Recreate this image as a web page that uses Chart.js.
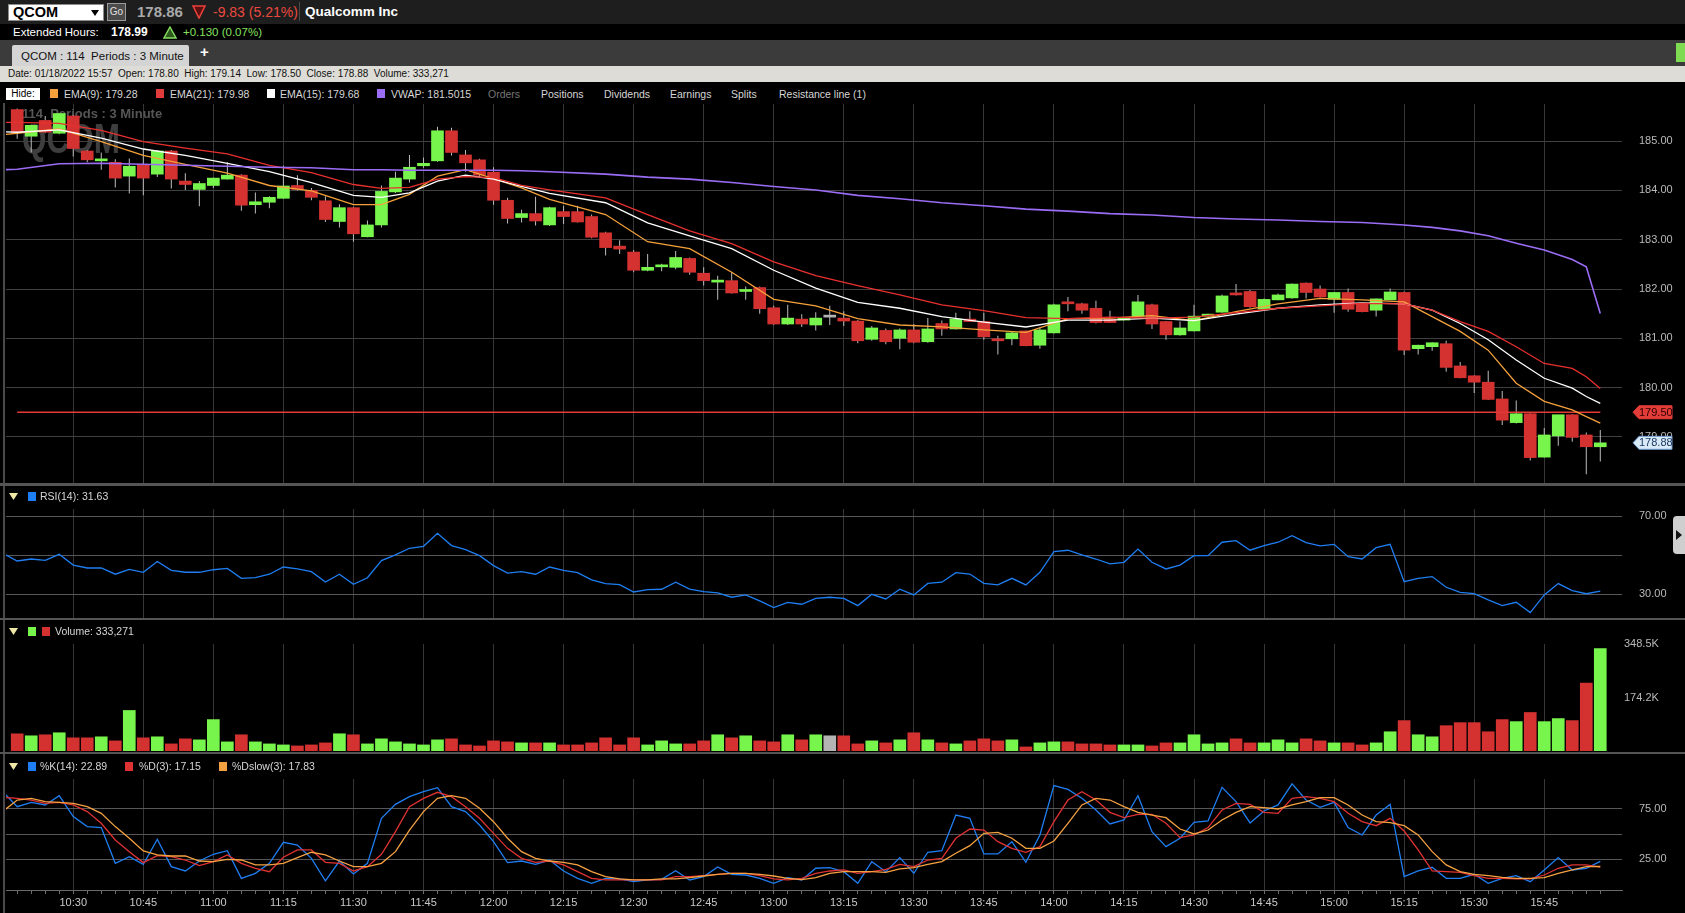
<!DOCTYPE html>
<html lang="en">
<head>
<meta charset="utf-8">
<title>QCOM : 114 Periods : 3 Minute</title>
<script src="https://cdn.jsdelivr.net/npm/chart.js@4.4.1/dist/chart.umd.min.js"></script>
<style>
  html, body { margin: 0; padding: 0; background: #000; }
  body { width: 1685px; height: 913px; overflow: hidden; position: relative;
         font-family: "Liberation Sans", Arial, Helvetica, sans-serif; color: #d4d4d4; }
  .a { position: absolute; white-space: nowrap; }
  .sq { position: absolute; width: 8px; height: 9px; }
  .lg { position: absolute; font-size: 10.5px; line-height: 12px; color: #d6d6d6; white-space: nowrap; }
  canvas { position: absolute; left: 0; }
  .sep { position: absolute; left: 0; width: 1685px; background: #555; }
</style>
</head>
<body>
<!-- quote bar -->
<div class="a" style="left:0;top:0;width:1685px;height:24px;background:#1e1e1e"></div>
<div class="a" style="left:8px;top:4px;width:94px;height:15px;background:#fff;border:1px solid #8c8c8c"></div>
<div class="a" style="left:13px;top:4px;font-size:14.5px;font-weight:bold;line-height:17px;color:#000">QCOM</div>
<svg class="a" style="left:91px;top:10px" width="8" height="6"><polygon points="0,0 8,0 4,6" fill="#000"/></svg>
<div class="a" style="left:107px;top:3px;width:17px;height:16px;background:#4b4b4b;border:1px solid #9a9a9a;color:#e0e0e0;font-size:10px;line-height:16px;text-align:center">Go</div>
<div class="a" style="left:137px;top:2px;font-size:15px;font-weight:bold;line-height:20px;color:#a9a9a9">178.86</div>
<svg class="a" style="left:192px;top:5px" width="14" height="14"><polygon points="1,1 13,1 7,13" fill="#5c0f0f" stroke="#e8413a" stroke-width="1.6"/></svg>
<div class="a" style="left:213px;top:2px;font-size:14px;line-height:20px;color:#ea4a3f">-9.83 (5.21%)</div>
<div class="a" style="left:299px;top:2px;width:1px;height:19px;background:#4a4a4a"></div>
<div class="a" style="left:305px;top:2px;font-size:13.5px;font-weight:bold;line-height:20px;color:#fff">Qualcomm Inc</div>

<div class="a" style="left:13px;top:25px;font-size:11.5px;line-height:15px;color:#fff">Extended Hours:</div>
<div class="a" style="left:111px;top:25px;font-size:12px;font-weight:bold;line-height:15px;color:#fff">178.99</div>
<svg class="a" style="left:163px;top:26px" width="14" height="13"><polygon points="7,1 13,12 1,12" fill="#2f5a1e" stroke="#86e060" stroke-width="1.4"/></svg>
<div class="a" style="left:183px;top:25px;font-size:11.5px;line-height:15px;color:#86e060">+0.130 (0.07%)</div>

<!-- tab bar -->
<div class="a" style="left:0;top:40px;width:1685px;height:26px;background:#3b3b3b"></div>
<div class="a" style="left:12px;top:45px;width:177px;height:21px;background:#d4d4d4;border-radius:2px 2px 0 0"></div>
<div class="a" style="left:21px;top:48px;font-size:11.5px;line-height:16px;color:#111">QCOM : 114&nbsp; Periods : 3 Minute</div>
<div class="a" style="left:200px;top:44px;font-size:15px;font-weight:bold;line-height:16px;color:#fff">+</div>
<div class="a" style="left:1676px;top:43px;width:9px;height:19px;background:#7fdc52"></div>

<!-- bar info line -->
<div class="a" style="left:0;top:66px;width:1685px;height:16px;background:#dddcd6"></div>
<div class="a" id="infoLine" style="left:8px;top:67px;font-size:10px;line-height:14px;color:#111"></div>

<!-- overlay legend row -->
<div class="a" style="left:6px;top:88px;width:34px;height:12px;background:#fff;color:#000;font-size:10px;line-height:12px;text-align:center">Hide:</div>
<div class="sq" style="left:50px;top:89px;background:#f5a13b"></div>
<div class="lg" id="lgEma9" style="left:64px;top:88px"></div>
<div class="sq" style="left:156px;top:89px;background:#e23b3b"></div>
<div class="lg" id="lgEma21" style="left:170px;top:88px"></div>
<div class="sq" style="left:267px;top:89px;background:#ffffff"></div>
<div class="lg" id="lgEma15" style="left:280px;top:88px"></div>
<div class="sq" style="left:377px;top:89px;background:#9b6cf5"></div>
<div class="lg" id="lgVwap" style="left:391px;top:88px"></div>
<div class="lg" style="left:488px;top:88px;color:#777">Orders</div>
<div class="lg" style="left:541px;top:88px">Positions</div>
<div class="lg" style="left:604px;top:88px">Dividends</div>
<div class="lg" style="left:670px;top:88px">Earnings</div>
<div class="lg" style="left:731px;top:88px">Splits</div>
<div class="lg" style="left:779px;top:88px">Resistance line (1)</div>

<div class="a" style="left:3px;top:103px;width:2px;height:810px;background:#4a4a4a"></div>

<canvas id="priceChart" width="1685" height="399" style="top:94px"></canvas>
<div class="sep" style="top:483px;height:3px"></div>

<svg class="a" style="left:9px;top:493px" width="9" height="7"><polygon points="0,0 9,0 4.5,7" fill="#efe7a6"/></svg>
<div class="sq" style="left:28px;top:492px;background:#1f7ef2"></div>
<div class="lg" id="lgRsi" style="left:40px;top:490px"></div>
<canvas id="rsiChart" width="1685" height="129" style="top:499px"></canvas>
<div class="a" style="left:1673px;top:516px;width:12px;height:38px;background:#cfcfcf;border-radius:4px 0 0 4px"></div>
<svg class="a" style="left:1676px;top:530px" width="6" height="10"><polygon points="0,0 6,5 0,10" fill="#111"/></svg>
<div class="sep" style="top:618px;height:2px"></div>

<svg class="a" style="left:9px;top:628px" width="9" height="7"><polygon points="0,0 9,0 4.5,7" fill="#efe7a6"/></svg>
<div class="sq" style="left:28px;top:627px;background:#78f54c"></div>
<div class="sq" style="left:42px;top:627px;background:#d43131"></div>
<div class="lg" id="lgVol" style="left:55px;top:625px"></div>
<canvas id="volChart" width="1685" height="127" style="top:634px"></canvas>
<div class="sep" style="top:752px;height:2px"></div>

<svg class="a" style="left:9px;top:763px" width="9" height="7"><polygon points="0,0 9,0 4.5,7" fill="#efe7a6"/></svg>
<div class="sq" style="left:28px;top:762px;background:#1f7ef2"></div>
<div class="lg" id="lgK" style="left:40px;top:760px"></div>
<div class="sq" style="left:125px;top:762px;background:#e03232"></div>
<div class="lg" id="lgD" style="left:139px;top:760px"></div>
<div class="sq" style="left:219px;top:762px;background:#f5a142"></div>
<div class="lg" id="lgDs" style="left:232px;top:760px"></div>
<canvas id="stochChart" width="1685" height="144" style="top:769px"></canvas>

<script>
// time axis: one label every 5 bars, starting with bar 4 (10:30)
const timeLabels = ['10:30', '10:45', '11:00', '11:15', '11:30', '11:45', '12:00', '12:15', '12:30', '12:45', '13:00',
  '13:15', '13:30', '13:45', '14:00', '14:15', '14:30', '14:45', '15:00', '15:15', '15:30', '15:45'];
const firstLabelBar = 4;
const labelStep = 5;

// 114 three-minute bars, 10:18 .. 15:57
const openP = [185.64, 185.10, 185.42, 185.16, 185.51, 184.80, 184.60, 184.57, 184.29, 184.53,
  184.33, 184.80, 184.19, 184.02, 184.10, 184.23, 184.31, 183.71, 183.76, 183.84,
  184.10, 184.00, 183.79, 183.37, 183.65, 183.06, 183.30, 183.97, 184.23, 184.50,
  184.60, 185.21, 184.72, 184.62, 184.37, 183.80, 183.45, 183.53, 183.30, 183.57,
  183.57, 183.47, 183.14, 182.87, 182.75, 182.38, 182.45, 182.44, 182.62, 182.32,
  182.14, 182.17, 181.95, 182.03, 181.62, 181.29, 181.39, 181.27, 181.43, 181.41,
  181.35, 180.98, 181.16, 181.00, 181.17, 180.93, 181.30, 181.19, 181.39, 181.34,
  180.97, 180.99, 181.15, 180.86, 181.11, 181.72, 181.70, 181.61, 181.39, 181.37,
  181.45, 181.68, 181.34, 181.07, 181.15, 181.45, 181.53, 181.90, 181.95, 181.59,
  181.78, 181.82, 182.12, 182.00, 181.79, 181.93, 181.69, 181.57, 181.78, 181.93,
  180.79, 180.83, 180.89, 180.44, 180.24, 180.11, 179.77, 179.29, 179.47, 178.59,
  179.02, 179.45, 179.04, 178.80];
const highP = [185.66, 185.33, 185.51, 185.57, 185.53, 184.82, 184.77, 184.63, 184.65, 184.84,
  184.82, 184.82, 184.35, 184.19, 184.26, 184.57, 184.33, 183.96, 183.88, 184.50,
  184.31, 184.05, 183.88, 183.72, 183.67, 183.39, 184.10, 184.38, 184.72, 184.67,
  185.29, 185.27, 184.82, 184.64, 184.47, 183.85, 183.61, 183.87, 183.67, 183.69,
  183.69, 183.51, 183.16, 182.99, 182.79, 182.71, 182.51, 182.77, 182.64, 182.44,
  182.27, 182.34, 182.05, 182.05, 181.66, 181.68, 181.49, 181.53, 181.66, 181.55,
  181.37, 181.25, 181.20, 181.20, 181.29, 181.41, 181.36, 181.52, 181.55, 181.52,
  181.05, 181.14, 181.16, 181.22, 181.70, 181.84, 181.72, 181.76, 181.56, 181.42,
  181.88, 181.70, 181.35, 181.34, 181.68, 181.50, 181.89, 182.10, 181.98, 181.81,
  181.91, 182.11, 182.13, 182.07, 181.94, 182.01, 181.70, 181.81, 182.01, 181.95,
  180.87, 180.92, 180.95, 180.52, 180.25, 180.34, 179.93, 179.74, 179.48, 179.18,
  179.45, 179.46, 179.09, 179.14];
const lowP = [185.05, 184.77, 185.16, 185.14, 184.69, 184.57, 184.42, 184.06, 183.94, 183.90,
  184.27, 184.04, 184.01, 183.68, 184.05, 184.22, 183.59, 183.53, 183.64, 183.83,
  184.00, 183.80, 183.36, 183.25, 182.96, 183.05, 183.25, 183.95, 184.16, 184.46,
  184.58, 184.71, 184.38, 184.25, 183.71, 183.33, 183.35, 183.29, 183.28, 183.32,
  183.35, 183.03, 182.68, 182.71, 182.34, 182.36, 182.36, 182.40, 182.29, 182.07,
  181.78, 181.91, 181.78, 181.50, 181.27, 181.27, 181.23, 181.16, 181.27, 181.25,
  180.90, 180.95, 180.88, 180.78, 180.90, 180.91, 181.05, 181.18, 181.33, 180.97,
  180.67, 180.86, 180.84, 180.79, 181.10, 181.55, 181.50, 181.30, 181.31, 181.36,
  181.43, 181.19, 180.97, 181.05, 181.14, 181.44, 181.52, 181.87, 181.62, 181.58,
  181.77, 181.80, 181.81, 181.83, 181.52, 181.54, 181.53, 181.44, 181.77, 180.66,
  180.67, 180.75, 180.32, 180.19, 179.89, 179.75, 179.24, 179.27, 178.52, 178.58,
  178.82, 178.90, 178.24, 178.50];
const closeP = [185.18, 185.32, 185.18, 185.56, 184.85, 184.62, 184.62, 184.25, 184.49, 184.25,
  184.80, 184.23, 184.12, 184.14, 184.25, 184.31, 183.70, 183.77, 183.86, 184.09,
  184.02, 183.86, 183.41, 183.65, 183.12, 183.30, 183.98, 184.25, 184.47, 184.55,
  185.21, 184.77, 184.56, 184.31, 183.80, 183.43, 183.53, 183.38, 183.65, 183.47,
  183.36, 183.05, 182.84, 182.81, 182.38, 182.44, 182.47, 182.64, 182.34, 182.17,
  182.15, 181.92, 181.97, 181.60, 181.29, 181.41, 181.29, 181.41, 181.43, 181.35,
  180.95, 181.21, 180.93, 181.17, 180.92, 181.19, 181.19, 181.39, 181.34, 181.03,
  180.95, 181.11, 180.85, 181.17, 181.68, 181.70, 181.57, 181.32, 181.32, 181.40,
  181.74, 181.29, 181.07, 181.21, 181.45, 181.47, 181.86, 181.88, 181.64, 181.79,
  181.88, 182.10, 181.93, 181.84, 181.93, 181.59, 181.54, 181.80, 181.94, 180.76,
  180.86, 180.91, 180.41, 180.20, 180.11, 179.76, 179.34, 179.47, 178.58, 179.04,
  179.45, 178.99, 178.80, 178.88];

// volume in thousands of shares
const volumeK = [56.0, 49.5, 52.8, 59.4, 42.9, 42.9, 46.2, 33.0, 132.0, 42.9,
  46.2, 23.1, 39.6, 36.3, 102.3, 29.7, 52.8, 29.7, 23.1, 19.8,
  16.5, 19.8, 26.4, 56.1, 52.8, 23.1, 39.6, 29.7, 23.1, 19.8,
  36.3, 39.6, 19.8, 16.5, 33.0, 29.7, 26.4, 26.4, 26.4, 19.8,
  19.8, 26.4, 42.9, 19.8, 42.9, 19.8, 33.0, 23.1, 23.1, 33.0,
  52.8, 42.9, 49.5, 33.0, 29.7, 52.8, 36.3, 52.8, 49.5, 49.5,
  23.1, 33.0, 26.4, 36.3, 59.4, 36.3, 26.4, 23.1, 33.0, 39.6,
  33.0, 36.3, 13.2, 26.4, 29.7, 29.7, 23.1, 23.1, 19.8, 19.8,
  19.8, 16.5, 26.4, 26.4, 52.8, 23.1, 26.4, 39.6, 26.4, 26.4,
  36.3, 26.4, 39.6, 33.0, 26.4, 26.4, 19.8, 26.4, 62.7, 99.0,
  52.8, 46.2, 82.5, 92.4, 92.4, 62.7, 102.3, 95.7, 125.4, 95.7,
  105.6, 99.0, 221.1, 333.271];

// indicator series: first value belongs to the bar just before the window (index -1)
const rsi = [50.9, 47.1, 48.1, 47.4, 50.5, 45.0, 43.5, 43.5, 40.3, 42.8, 41.3,
  46.8, 42.3, 41.3, 41.3, 42.6, 43.3, 38.2, 38.5, 40.3, 44.0,
  43.0, 41.6, 36.3, 40.3, 35.1, 38.5, 47.3, 50.2, 53.6, 54.6,
  61.3, 55.0, 52.9, 49.8, 44.7, 40.9, 41.6, 40.3, 44.0, 42.3,
  41.1, 37.4, 35.5, 35.0, 31.2, 32.4, 32.6, 36.2, 32.7, 31.4,
  30.7, 28.5, 29.7, 26.6, 23.2, 25.9, 24.9, 27.9, 28.5, 27.9,
  24.2, 30.0, 27.6, 32.6, 29.7, 35.6, 36.2, 41.1, 40.4, 35.6,
  34.8, 38.2, 34.8, 41.3, 51.9, 52.6, 50.2, 48.1, 45.6, 46.4,
  53.2, 46.4, 43.0, 45.0, 49.8, 49.8, 56.7, 57.5, 52.6, 55.0,
  56.7, 60.1, 56.5, 54.8, 55.6, 49.3, 48.1, 53.9, 55.6, 36.5,
  38.2, 39.1, 33.6, 31.0, 30.3, 27.1, 24.2, 25.9, 20.6, 29.7,
  35.5, 31.9, 30.3, 31.63];
const pctK = [91.8, 77.3, 81.6, 79.0, 88.2, 67.4, 57.5, 56.5, 21.0, 27.6, 20.0,
  44.9, 17.7, 13.4, 23.3, 30.0, 33.6, 6.1, 11.1, 21.0, 41.9,
  39.2, 26.0, 3.5, 23.3, 10.4, 21.0, 65.7, 79.6, 87.3, 92.2,
  96.2, 77.3, 72.4, 59.1, 42.5, 21.7, 23.3, 20.0, 24.3, 13.4,
  6.1, 1.2, 6.1, 5.5, 2.8, 4.5, 5.1, 13.7, 4.5, 7.8,
  17.4, 10.1, 9.4, 6.1, 1.2, 6.8, 4.5, 16.1, 16.7, 12.7,
  1.2, 22.7, 12.7, 26.7, 11.1, 32.0, 33.6, 69.0, 65.7, 30.3,
  30.3, 42.5, 22.0, 49.2, 98.2, 94.5, 85.6, 74.0, 60.1, 64.1,
  88.2, 52.5, 37.6, 45.9, 61.8, 63.1, 96.5, 82.3, 61.1, 73.0,
  79.0, 100.0, 83.9, 76.7, 81.6, 56.5, 49.2, 69.0, 79.6, 7.8,
  13.4, 17.1, 6.1, 6.1, 10.1, 1.2, 6.1, 8.8, 2.8, 14.4,
  26.7, 14.4, 16.1, 22.89];
const pctD = [86.6, 85.6, 83.9, 80.6, 81.6, 79.0, 72.4, 60.8, 44.2, 32.6, 21.7,
  28.6, 27.6, 24.3, 18.7, 22.7, 29.3, 21.0, 16.1, 12.7, 27.0,
  34.3, 34.3, 22.0, 21.0, 13.4, 17.7, 30.0, 52.5, 77.3, 85.6,
  91.6, 87.3, 77.3, 65.7, 50.8, 35.9, 26.0, 22.0, 23.3, 19.4,
  12.7, 6.1, 4.5, 4.5, 4.5, 4.5, 4.5, 7.8, 7.8, 8.8,
  10.1, 11.1, 11.1, 8.8, 5.5, 4.5, 6.1, 11.1, 13.4, 14.4,
  11.1, 12.7, 15.1, 20.0, 17.7, 24.3, 26.0, 45.9, 55.1, 54.1,
  42.5, 35.9, 32.0, 37.6, 62.4, 83.9, 92.2, 83.9, 71.7, 66.4,
  69.7, 69.7, 60.8, 46.5, 49.2, 56.5, 74.0, 80.6, 79.6, 71.7,
  70.7, 85.6, 87.3, 85.6, 82.3, 70.7, 62.4, 58.4, 65.7, 53.1,
  34.3, 13.4, 12.7, 12.1, 8.8, 6.1, 6.1, 5.5, 5.5, 9.4,
  16.1, 19.4, 19.4, 17.15];
const pctDslow = [72.9, 83.9, 85.6, 82.3, 81.6, 80.6, 77.3, 70.7, 57.5, 45.9, 33.3,
  29.3, 28.3, 28.3, 23.3, 22.7, 25.0, 24.3, 19.4, 19.4, 21.0,
  26.7, 32.0, 29.3, 23.3, 17.7, 17.7, 21.0, 32.6, 54.1, 72.4,
  85.6, 88.2, 85.6, 75.7, 62.4, 45.9, 32.6, 26.0, 23.3, 22.0,
  19.4, 12.7, 7.8, 5.5, 4.5, 4.5, 5.5, 5.5, 6.8, 8.4,
  10.1, 11.1, 11.1, 10.1, 8.4, 6.1, 4.8, 6.8, 11.1, 12.7,
  12.7, 12.7, 12.1, 15.4, 16.7, 20.0, 22.7, 31.0, 38.6, 50.8,
  51.8, 45.9, 35.9, 35.9, 43.2, 60.8, 79.0, 85.6, 83.9, 77.3,
  71.7, 69.0, 66.4, 55.1, 50.2, 54.1, 64.1, 71.7, 77.3, 76.3,
  75.0, 79.0, 82.3, 86.3, 86.3, 79.0, 69.0, 62.4, 61.4, 58.4,
  49.2, 32.6, 19.4, 12.7, 10.1, 8.8, 7.1, 6.1, 6.1, 6.8,
  11.1, 14.4, 17.7, 17.83];

// overlay lines, read at these bar indexes
const overlayIdx = [-1, 0, 3, 6, 9, 12, 15, 18, 21, 24, 26, 28, 30, 32, 34, 36, 38,
  42, 45, 48, 51, 54, 57, 60, 63, 66, 69, 72, 75, 78, 81, 84, 87, 90, 93, 96, 99,
  101, 103, 105, 107, 109, 111, 112, 113];
const ema9 = [185.13, 185.16, 185.25, 184.99, 184.71, 184.53, 184.35, 184.10, 183.99, 183.71, 183.71,
  183.92, 184.29, 184.42, 184.24, 184.05, 183.82,
  183.51, 182.96, 182.82, 182.34, 181.79, 181.66, 181.40, 181.27, 181.23, 181.17, 181.12, 181.40,
  181.41, 181.46, 181.36, 181.54, 181.70, 181.81, 181.78, 181.74, 181.44, 181.14, 180.76, 180.09,
  179.72, 179.55, 179.41, 179.28];
const ema15 = [185.19, 185.18, 185.23, 185.06, 184.84, 184.71, 184.55, 184.38, 184.16, 183.90, 183.86,
  183.95, 184.19, 184.31, 184.23, 184.08, 183.94,
  183.75, 183.34, 183.08, 182.82, 182.38, 182.02, 181.73, 181.61, 181.44, 181.33, 181.23, 181.37,
  181.37, 181.41, 181.36, 181.49, 181.61, 181.68, 181.72, 181.70, 181.57, 181.30, 180.97, 180.56,
  180.19, 179.99, 179.82, 179.68];
const ema21 = [185.38, 185.38, 185.36, 185.22, 184.99, 184.86, 184.74, 184.51, 184.36, 184.12, 184.04,
  184.06, 184.23, 184.28, 184.26, 184.10, 184.01,
  183.85, 183.51, 183.18, 182.92, 182.55, 182.27, 182.07, 181.88, 181.68, 181.56, 181.42, 181.40,
  181.43, 181.41, 181.43, 181.52, 181.61, 181.66, 181.71, 181.70, 181.57, 181.34, 181.14, 180.83,
  180.49, 180.39, 180.22, 179.98];
const vwap = [184.42, 184.43, 184.54, 184.55, 184.53, 184.51, 184.49, 184.47, 184.46, 184.42, 184.42,
  184.41, 184.41, 184.41, 184.41, 184.40, 184.38,
  184.33, 184.27, 184.23, 184.16, 184.08, 184.01, 183.90, 183.83, 183.75, 183.69, 183.62, 183.58,
  183.53, 183.50, 183.45, 183.42, 183.40, 183.37, 183.35, 183.30, 183.25, 183.18, 183.08, 182.93,
  182.79, 182.60, 182.45, 181.5015];

const resistanceLevel = 179.50;

// ---- layout constants ----
const FONT = '"Liberation Sans", Arial, Helvetica, sans-serif';
const AXIS_W = 63;
const X_MIN = -0.8, X_MAX = 114.55;
const UP = '#78f54c', DOWN = '#d43131', FLAT = '#b4b4b4';

Chart.defaults.font.family = FONT;
Chart.defaults.animation = false;

const lastBar = closeP.length - 1;
const lastClose = closeP[lastBar];
const barIdx = closeP.map((_, i) => i);
const gridIdx = timeLabels.map((_, k) => firstLabelBar + k * labelStep);

function labelAt(v) {
  const k = (v - firstLabelBar) / labelStep;
  return Number.isInteger(k) && k >= 0 && k < timeLabels.length ? timeLabels[k] : '';
}
function barColor(i) {
  return closeP[i] > openP[i] ? UP : closeP[i] < openP[i] ? DOWN : FLAT;
}
const colors = barIdx.map(barColor);

// keep chart areas exactly where layout.padding puts them
function noAxisPadding(s) {
  s.paddingTop = 0;
  s.paddingBottom = 0;
  s.paddingLeft = 0;
  s.paddingRight = 0;
}

function xAxis() {
  return {
    type: 'linear', min: X_MIN, max: X_MAX, offset: false,
    afterBuildTicks: s => { s.ticks = gridIdx.map(v => ({ value: v })); },
    afterFit: s => { s.height = 0; noAxisPadding(s); },
    ticks: { display: false },
    grid: { color: '#363636', drawTicks: false, offset: false },
    border: { display: false }
  };
}
function yAxis(min, max, tickVals, label, opts) {
  opts = opts || {};
  return {
    position: 'right', min: min, max: max,
    afterBuildTicks: s => { s.ticks = tickVals.map(v => ({ value: v })); },
    afterFit: s => { s.width = AXIS_W; noAxisPadding(s); },
    ticks: { color: '#b9b9b9', font: { size: 11 }, padding: opts.padding || 17, autoSkip: false, callback: label },
    grid: { display: opts.grid !== false, color: opts.gridColor || '#404040', drawTicks: false },
    border: { display: false }
  };
}
function baseOptions(scales, pad) {
  return {
    responsive: false, animation: false, events: [],
    layout: { padding: Object.assign({ left: 6, right: 0, top: 10, bottom: 10 }, pad) },
    plugins: { legend: { display: false }, tooltip: { enabled: false } },
    scales: scales
  };
}
function overlayLine(values, color, width) {
  return {
    type: 'line', data: overlayIdx.map((x, k) => ({ x: x, y: values[k] })),
    borderColor: color, borderWidth: width, pointRadius: 0, tension: 0, fill: false, order: 0
  };
}
function indicatorLine(values, color, order) {
  // values[0] is the bar before the first visible one
  return {
    type: 'line', data: values.map((v, k) => ({ x: k - 1, y: v })),
    borderColor: color, borderWidth: 1.3, pointRadius: 0, tension: 0, fill: false, order: order
  };
}

function drawTag(ctx, x0, y, text, fill, stroke, color) {
  const l = x0 + 11, r = x0 + 50, h = 6.5;
  ctx.save();
  ctx.beginPath();
  ctx.moveTo(l, y);
  ctx.lineTo(l + 6, y - h);
  ctx.lineTo(r, y - h);
  ctx.lineTo(r, y + h);
  ctx.lineTo(l + 6, y + h);
  ctx.closePath();
  ctx.fillStyle = fill;
  ctx.fill();
  ctx.strokeStyle = stroke;
  ctx.lineWidth = 1;
  ctx.stroke();
  ctx.fillStyle = color;
  ctx.font = '11px ' + FONT;
  ctx.textBaseline = 'middle';
  ctx.textAlign = 'left';
  ctx.fillText(text, l + 6, y + 0.5);
  ctx.restore();
}

// watermark behind the candles, price tags on the axis
const priceDecor = {
  id: 'priceDecor',
  beforeDatasetsDraw(chart) {
    const { ctx, chartArea } = chart;
    ctx.save();
    ctx.fillStyle = '#565656';
    ctx.font = 'bold 13px ' + FONT;
    ctx.fillText('114  Periods : 3 Minute', chartArea.left + 16, chartArea.top + 14);
    ctx.fillStyle = '#3e3e3e';
    ctx.font = 'bold 42px ' + FONT;
    ctx.translate(chartArea.left + 16, chartArea.top + 49);
    ctx.scale(0.75, 1);
    ctx.fillText('QCOM', 0, 0);
    ctx.restore();
  },
  afterDraw(chart) {
    const { ctx, chartArea, scales } = chart;
    drawTag(ctx, chartArea.right, scales.y.getPixelForValue(resistanceLevel), resistanceLevel.toFixed(2), '#e23c38', '#e23c38', '#2a0000');
    drawTag(ctx, chartArea.right, scales.y.getPixelForValue(lastClose), lastClose.toFixed(2), '#d8e9f8', '#6f9bd0', '#17355f');
  }
};

// ---- price panel ----
new Chart(document.getElementById('priceChart'), {
  type: 'bar',
  data: {
    datasets: [
      overlayLine(vwap, '#9b6cf5', 1.6),
      overlayLine(ema21, '#e8302e', 1.3),
      overlayLine(ema15, '#ffffff', 1.3),
      overlayLine(ema9, '#f5a13b', 1.3),
      {
        type: 'line', data: [{ x: 0, y: resistanceLevel }, { x: lastBar, y: resistanceLevel }],
        borderColor: '#e23a36', borderWidth: 1.3, pointRadius: 0, order: 0
      },
      {
        type: 'bar', data: barIdx.map(i => ({ x: i, y: [openP[i], closeP[i]] })),
        backgroundColor: colors, barThickness: 12, minBarLength: 2, grouped: false, order: 1
      },
      {
        type: 'bar', data: barIdx.map(i => ({ x: i, y: [lowP[i], highP[i]] })),
        backgroundColor: '#bdbdbd', barThickness: 1, inflateAmount: 0, grouped: false, order: 2
      }
    ]
  },
  options: baseOptions({
    x: xAxis(),
    y: yAxis(178.065, 185.753, [179, 180, 181, 182, 183, 184, 185], v => v.toFixed(2))
  }),
  plugins: [priceDecor]
});

// ---- RSI panel ----
new Chart(document.getElementById('rsiChart'), {
  type: 'line',
  data: { datasets: [indicatorLine(rsi, '#1f7ef2', 0)] },
  options: baseOptions({
    x: xAxis(),
    y: yAxis(17.85, 73.74, [30, 50, 70], v => (v === 50 ? '' : v.toFixed(2)), { gridColor: '#575757' })
  })
});

// ---- volume panel ----
new Chart(document.getElementById('volChart'), {
  type: 'bar',
  data: {
    datasets: [{
      data: barIdx.map(i => ({ x: i, y: volumeK[i] })),
      backgroundColor: colors, barThickness: 12, grouped: false
    }]
  },
  options: baseOptions({
    x: xAxis(),
    y: yAxis(0, 348.5, [174.2, 348.5], v => v.toFixed(1) + 'K', { grid: false, padding: 2 })
  })
});

// ---- stochastic panel with the time axis ----
const stochX = xAxis();
stochX.afterBuildTicks = s => { s.ticks = barIdx.map(v => ({ value: v })); };
stochX.afterFit = s => { s.height = 23; noAxisPadding(s); };
stochX.ticks = { display: true, color: '#c9c9c9', font: { size: 11 }, padding: 2, maxRotation: 0, autoSkip: false, callback: v => labelAt(v) };
stochX.grid = {
  color: c => (labelAt(c.tick.value) ? '#363636' : 'rgba(0,0,0,0)'),
  tickColor: '#6e6e6e', tickLength: 4, drawTicks: true, offset: false
};
stochX.border = { display: true, color: '#6a6a6a' };

new Chart(document.getElementById('stochChart'), {
  type: 'line',
  data: {
    datasets: [
      indicatorLine(pctK, '#1f7ef2', 2),
      indicatorLine(pctD, '#e03232', 1),
      indicatorLine(pctDslow, '#f5a142', 0)
    ]
  },
  options: baseOptions({
    x: stochX,
    y: yAxis(-5.5, 104.8, [25, 50, 75], v => (v === 50 ? '' : v.toFixed(2)), { gridColor: '#575757' })
  }, { bottom: 0 })
});

// ---- text readouts ----
const last = a => a[a.length - 1];
const volText = Math.round(last(volumeK) * 1000).toLocaleString('en-US');
document.getElementById('infoLine').innerHTML =
  'Date: 01/18/2022 15:57&nbsp; Open: ' + openP[lastBar].toFixed(2) +
  '&nbsp; High: ' + highP[lastBar].toFixed(2) +
  '&nbsp; Low: ' + lowP[lastBar].toFixed(2) +
  '&nbsp; Close: ' + closeP[lastBar].toFixed(2) +
  '&nbsp; Volume: ' + volText;
document.getElementById('lgEma9').textContent = 'EMA(9): ' + last(ema9).toFixed(2);
document.getElementById('lgEma21').textContent = 'EMA(21): ' + last(ema21).toFixed(2);
document.getElementById('lgEma15').textContent = 'EMA(15): ' + last(ema15).toFixed(2);
document.getElementById('lgVwap').textContent = 'VWAP: ' + last(vwap).toFixed(4);
document.getElementById('lgRsi').textContent = 'RSI(14): ' + last(rsi).toFixed(2);
document.getElementById('lgVol').textContent = 'Volume: ' + volText;
document.getElementById('lgK').textContent = '%K(14): ' + last(pctK).toFixed(2);
document.getElementById('lgD').textContent = '%D(3): ' + last(pctD).toFixed(2);
document.getElementById('lgDs').textContent = '%Dslow(3): ' + last(pctDslow).toFixed(2);
</script>
</body>
</html>
